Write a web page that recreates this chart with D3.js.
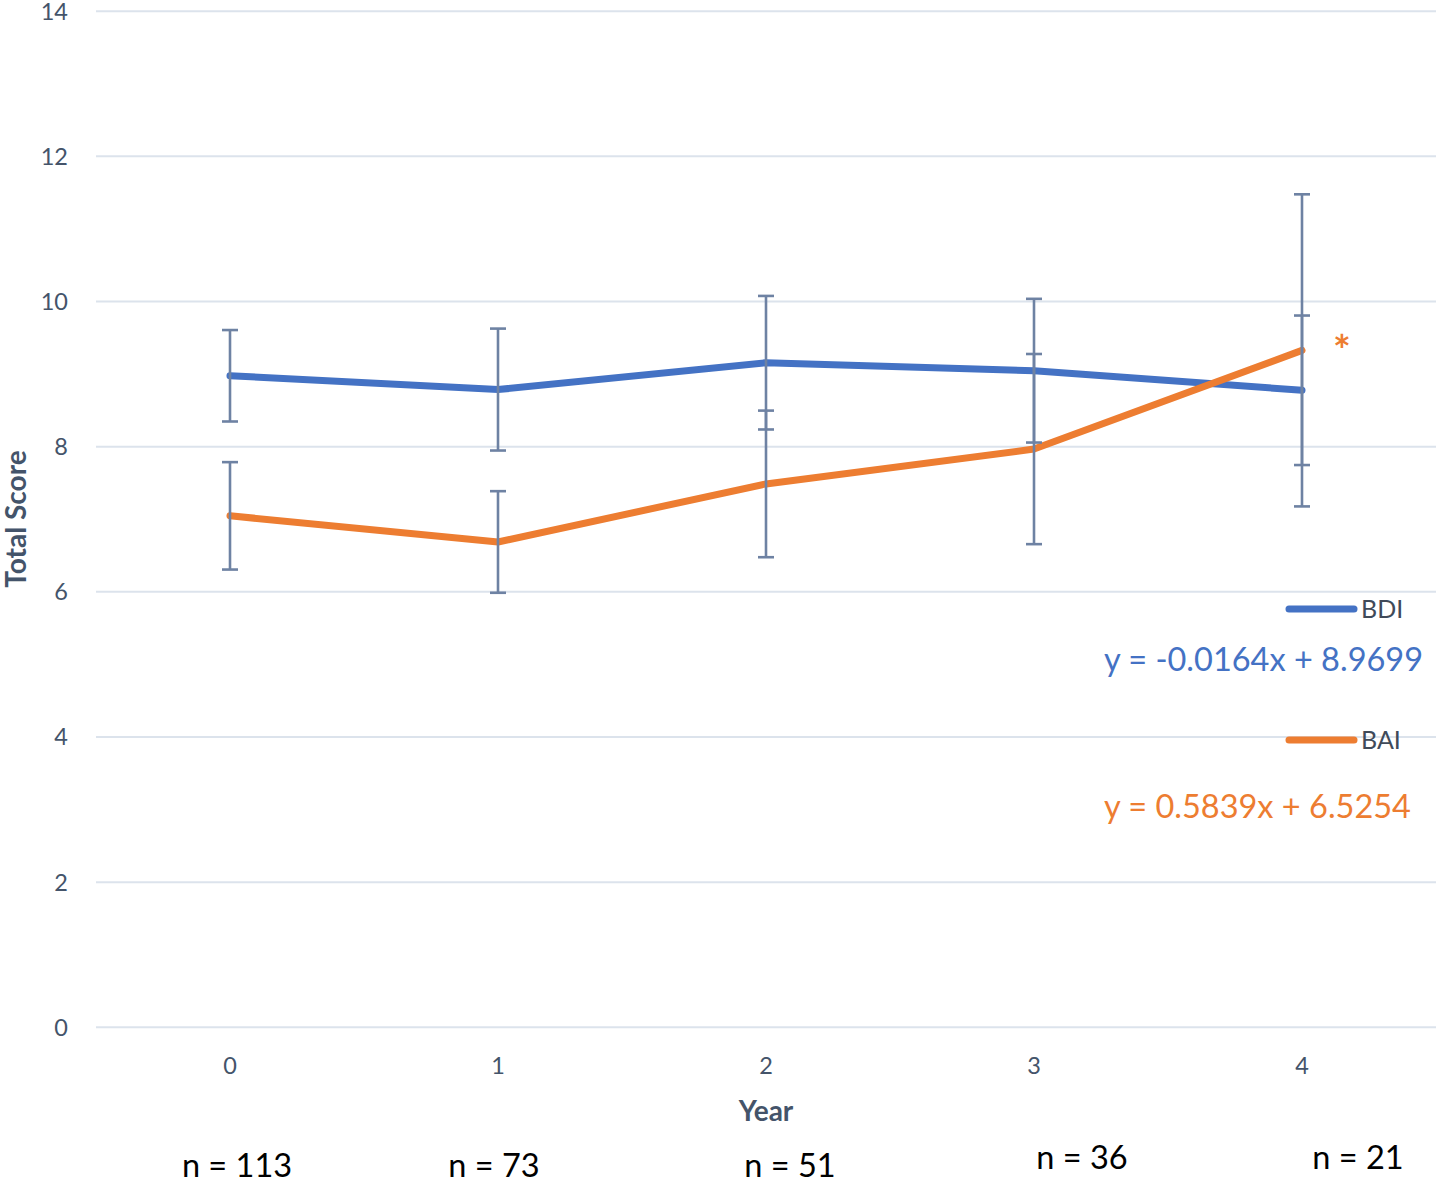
<!DOCTYPE html>
<html>
<head>
<meta charset="utf-8">
<script src="https://cdn.jsdelivr.net/npm/d3@7/dist/d3.min.js"></script>
<style>
  html, body { margin: 0; padding: 0; background: #ffffff; }
  svg { display: block; }
  text { font-family: Lato, "Open Sans", sans-serif; }
</style>
</head>
<body>
<svg id="chart" width="1437" height="1181"></svg>
<script>
// ---- data ----
const years = [0, 1, 2, 3, 4];
const bdiMean = [8.97, 8.78, 9.15, 9.04, 8.77];
const bdiErr  = [0.63, 0.84, 0.92, 0.99, 1.03];
const baiMean = [7.04, 6.68, 7.48, 7.96, 9.32];
const baiErr  = [0.74, 0.70, 1.01, 1.31, 2.15];
const yTicks = [0, 2, 4, 6, 8, 10, 12, 14];
const nLabels = ["n = 113", "n = 73", "n = 51", "n = 36", "n = 21"];
const seriesNames = ["BDI", "BAI"];
const trendLabels = ["y = -0.0164x + 8.9699", "y = 0.5839x + 6.5254"];

// ---- styles ----
const colors = { BDI: "#4472c4", BAI: "#ed7d31" };
const gridColor = "#dce3ec";
const tickColor = "#44546a";
const errColor = "#6e82a3";

const svg = d3.select("#chart");

const x = d3.scaleBand().domain(years).range([96, 1436]).padding(0);
const y = d3.scaleLinear().domain([0, 14]).range([1026.8, 10.7]);
const cx = d => x(d) + x.bandwidth() / 2;

// gridlines + y tick labels
const yAxis = d3.axisLeft(y).tickValues(yTicks).tickSize(-1340).tickPadding(28).tickFormat(d3.format("d"));
const gy = svg.append("g").attr("transform", "translate(96,0)").call(yAxis);
gy.select(".domain").remove();
gy.selectAll(".tick line").attr("stroke", gridColor).attr("stroke-width", 2);
gy.selectAll(".tick text")
  .attr("fill", tickColor).attr("font-size", 23.5).attr("dy", "0.36em")
  .attr("font-family", "Lato, sans-serif");

// x axis labels
const xAxis = d3.axisBottom(x).tickSize(0).tickPadding(31);
const gx = svg.append("g").attr("transform", "translate(0,1026.8)").call(xAxis);
gx.select(".domain").remove();
gx.selectAll(".tick text")
  .attr("fill", tickColor).attr("font-size", 23.5)
  .attr("font-family", "Lato, sans-serif");

// axis titles
svg.append("text")
  .attr("transform", "translate(26,519) rotate(-90)")
  .attr("text-anchor", "middle")
  .attr("font-size", 28).attr("font-weight", "bold").attr("fill", tickColor)
  .text("Total Score");
svg.append("text")
  .attr("x", 766).attr("y", 1121)
  .attr("text-anchor", "middle")
  .attr("font-size", 28).attr("font-weight", "bold").attr("fill", tickColor)
  .text("Year");

// lines
const series = [
  { name: "BDI", mean: bdiMean, err: bdiErr },
  { name: "BAI", mean: baiMean, err: baiErr }
];
const line = d3.line().x((d, i) => cx(years[i])).y(d => y(d));
series.forEach(s => {
  svg.append("path")
    .attr("d", line(s.mean))
    .attr("fill", "none")
    .attr("stroke", colors[s.name])
    .attr("stroke-width", 7)
    .attr("stroke-linecap", "round")
    .attr("stroke-linejoin", "round");
});

// error bars (drawn on top)
const capW = 8;
series.forEach(s => {
  const g = svg.append("g").attr("stroke", errColor).attr("stroke-width", 2.6);
  years.forEach((yr, i) => {
    const xc = cx(yr);
    const top = y(s.mean[i] + s.err[i]);
    const bot = y(s.mean[i] - s.err[i]);
    g.append("line").attr("x1", xc).attr("x2", xc).attr("y1", top).attr("y2", bot);
    g.append("line").attr("x1", xc - capW).attr("x2", xc + capW).attr("y1", top).attr("y2", top);
    g.append("line").attr("x1", xc - capW).attr("x2", xc + capW).attr("y1", bot).attr("y2", bot);
  });
});

// significance star
svg.append("text")
  .attr("x", cx(4) + 40).attr("y", 366)
  .attr("text-anchor", "middle")
  .attr("font-size", 42).attr("font-weight", "bold").attr("fill", colors.BAI)
  .text("*");

// legend + trend equations
const legendY = [609, 740];
const eqY = [671, 818];
seriesNames.forEach((name, i) => {
  svg.append("line")
    .attr("x1", 1289).attr("x2", 1354)
    .attr("y1", legendY[i]).attr("y2", legendY[i])
    .attr("stroke", colors[name]).attr("stroke-width", 7)
    .attr("stroke-linecap", "round");
  svg.append("text")
    .attr("x", 1361).attr("y", legendY[i] + 9)
    .attr("font-size", 25).attr("fill", "#404a59")
    .text(name);
  svg.append("text")
    .attr("x", 1104).attr("y", eqY[i])
    .attr("font-size", 32.5).attr("fill", colors[name])
    .text(trendLabels[i]);
});

// n labels
const nOffsetX = [7, -4, 24, 48, 56];
const nBaseY = [1177, 1177, 1177, 1169, 1169];
svg.append("g").selectAll("text")
  .data(nLabels)
  .join("text")
  .attr("x", (d, i) => cx(years[i]) + nOffsetX[i])
  .attr("y", (d, i) => nBaseY[i])
  .attr("text-anchor", "middle")
  .attr("font-size", 32.5).attr("fill", "#000000")
  .text(d => d);
</script>
</body>
</html>
